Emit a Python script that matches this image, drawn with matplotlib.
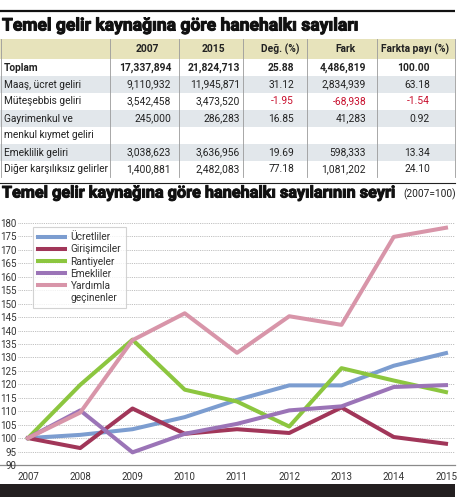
import matplotlib
matplotlib.use("Agg")
import matplotlib.pyplot as plt
import matplotlib.patheffects as pe
from matplotlib.lines import Line2D
from matplotlib.patches import Rectangle

plt.rcParams['font.family'] = ['Roboto', 'DejaVu Sans']

# ---------------- data ----------------
years = [2007, 2008, 2009, 2010, 2011, 2012, 2013, 2014, 2015]
ucretliler = [100, 101.2, 103.3, 107.8, 114.2, 119.6, 119.6, 126.9, 131.6]
girisimciler = [100, 96.3, 111.0, 101.6, 103.3, 101.9, 111.4, 100.4, 97.9]
rantiyeler = [100, 119.8, 136.6, 118.0, 113.6, 104.3, 126.0, 121.4, 117.1]
emekliler = [100, 110.3, 94.7, 101.6, 105.3, 110.3, 111.8, 119.0, 119.7]
yardimla = [100, 109.5, 136.4, 146.4, 131.7, 145.3, 142.1, 174.8, 178.2]
series_names = ["Ücretliler", "Girişimciler", "Rantiyeler", "Emekliler", "Yardımla"]
series_colors = ["#7c9dd0", "#a13659", "#8cc63f", "#9b74b7", "#d895a9"]

col_headers = ["2007", "2015", "Değ. (%)", "Fark", "Farkta payı (%)"]
row_labels = ["Toplam", "Maaş, ücret geliri", "Müteşebbis geliri",
              "Gayrimenkul ve", "Emeklilik geliri", "Diğer karşılıksız gelirler"]
v2007 = ["17,337,894", "9,110,932", "3,542,458", "245,000", "3,038,623", "1,400,881"]
v2015 = ["21,824,713", "11,945,871", "3,473,520", "286,283", "3,636,956", "2,482,083"]
deg = ["25.88", "31.12", "-1.95", "16.85", "19.69", "77.18"]
fark = ["4,486,819", "2,834,939", "-68,938", "41,283", "598,333", "1,081,202"]
pay = ["100.00", "63.18", "-1.54", "0.92", "13.34", "24.10"]

W, H = 459, 497
fig = plt.figure(figsize=(W / 100, H / 100), dpi=100)
bg = fig.add_axes([0, 0, 1, 1])
bg.set_xlim(0, W)
bg.set_ylim(H, 0)
bg.axis("off")

heavy = [pe.withStroke(linewidth=0.7, foreground="#111111")]

# top rule and title
bg.plot([0, 455], [11, 11], color="#111111", lw=1.6, solid_capstyle="butt")
bg.text(2, 26, "Temel gelir kaynağına göre hanehalkı sayıları", fontsize=12.6,
        fontweight="bold", va="center", ha="left", color="#111111", path_effects=heavy)

# table
row_bounds = [59, 76, 93, 110, 127, 144, 161, 177]
row_fill = ["white", "#e2e7eb", "white", "#e2e7eb", "white", "#e2e7eb", "white"]
bg.add_patch(Rectangle((0, 39), 455, 20, facecolor="#e7e3bb", edgecolor="none"))
for i, f in enumerate(row_fill):
    bg.add_patch(Rectangle((0, row_bounds[i]), 455, row_bounds[i + 1] - row_bounds[i],
                           facecolor=f, edgecolor="none"))
for xv in [0.5, 110, 179, 243, 307, 377, 454.5]:
    bg.plot([xv, xv], [39, 177], color="#9a9a9a", lw=0.6)

hdr_cx = [147, 213, 280, 345, 415]
for cx, h in zip(hdr_cx, col_headers):
    bg.text(cx, 49, h, fontsize=7.4, fontweight="bold", ha="center", va="center",
            color="#222222")

col_right = [171, 240, 294, 366, 430]
row_y = [68, 84.5, 101.5, 118.5, 152.5, 169]
for i, lab in enumerate(row_labels):
    y = row_y[i]
    wt = "bold" if i == 0 else "normal"
    bg.text(4, y, lab, fontsize=7.3, fontweight=wt, ha="left", va="center", color="#222222")
    vals = [v2007[i], v2015[i], deg[i], fark[i], pay[i]]
    for j, v in enumerate(vals):
        c = "#c8102e" if v.startswith("-") else "#222222"
        bg.text(col_right[j], y, v, fontsize=7.4, fontweight=wt, ha="right",
                va="center", color=c)
bg.text(4, 135.5, "menkul kıymet geliri", fontsize=7.3, ha="left", va="center",
        color="#222222")

# second title
bg.plot([0, 455], [182.5, 182.5], color="#222222", lw=0.8)
bg.text(2, 193, "Temel gelir kaynağına göre hanehalkı sayılarının seyri", fontsize=11.7,
        fontweight="bold", ha="left", va="center", color="#111111", path_effects=heavy)
bg.text(456, 194, "(2007=100)", fontsize=7.3, ha="right", va="center", color="#222222")

# bottom axis line and dark bar
bg.plot([0, 455], [465, 465], color="#8a8a8a", lw=0.9)
bg.add_patch(Rectangle((0, 484), 455, 13, facecolor="#231f20", edgecolor="none"))

# ---------------- chart ----------------
left, right, top, bottom = 18, 455, 220, 465
ax = fig.add_axes([left / W, 1 - bottom / H, (right - left) / W, (bottom - top) / H])
ax.patch.set_alpha(0)
ax.set_xlim(2007 - 10 / 52.25, 2015 + 9 / 52.25)
ax.set_ylim(90, 90 + (bottom - top) / 2.69)
for s in ax.spines.values():
    s.set_visible(False)
ax.set_yticks(list(range(90, 181, 5)))
ax.set_xticks(years)
ax.tick_params(axis="both", length=0, labelsize=7, colors="#333333")
ax.tick_params(axis="y", pad=1)
ax.tick_params(axis="x", pad=5)
for yv in range(95, 181, 5):
    ax.axhline(yv, color="#aaaaaa", lw=0.6, ls=(0, (1, 1.2)), zorder=0)

all_series = [ucretliler, girisimciler, rantiyeler, emekliler, yardimla]
handles = []
for name, vals, col in zip(series_names, all_series, series_colors):
    ln, = ax.plot(years, vals, color=col, lw=2.9, label=name, solid_joinstyle="round")
    handles.append(ln)
handles.append(Line2D([], [], color="none"))
labels = series_names + ["geçinenler"]

leg = fig.legend(handles, labels, loc="upper left", bbox_to_anchor=(33 / W, 1 - 227 / H),
                 fontsize=7.3, handlelength=2.7, labelspacing=0.22, borderpad=0.5,
                 handletextpad=0.5, frameon=True, fancybox=False, shadow=False,
                 borderaxespad=0)
leg.get_frame().set_edgecolor("#c8c8c8")
leg.get_frame().set_linewidth(0.8)
for t in leg.get_texts():
    t.set_color("#333333")

fig.savefig("out.png", dpi=100)
